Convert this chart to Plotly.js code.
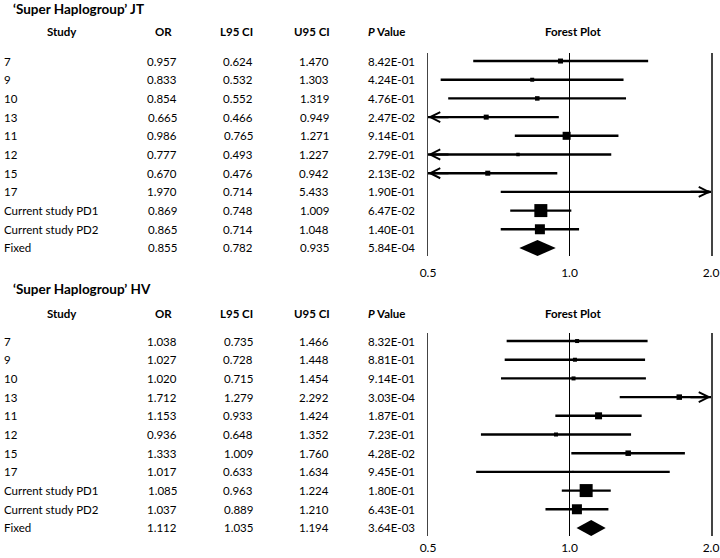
<!DOCTYPE html>
<html>
<head>
<meta charset="utf-8">
<script src="https://cdn.plot.ly/plotly-3.0.1.min.js"></script>
<style>html,body{margin:0;padding:0;background:#fff;}#chart{width:720px;height:558px;}</style>
</head>
<body>
<div id="chart"></div>
<script>
// ---------- data ----------
const studies = ['7','9','10','13','11','12','15','17','Current study PD1','Current study PD2','Fixed'];

const jtTitle = '\u2018Super Haplogroup\u2019 JT';
const jtOR  = [0.957,0.833,0.854,0.665,0.986,0.777,0.670,1.970,0.869,0.865,0.855];
const jtL95 = [0.624,0.532,0.552,0.466,0.765,0.493,0.476,0.714,0.748,0.714,0.782];
const jtU95 = [1.470,1.303,1.319,0.949,1.271,1.227,0.942,5.433,1.009,1.048,0.935];
const jtP   = ['8.42E-01','4.24E-01','4.76E-01','2.47E-02','9.14E-01','2.79E-01','2.13E-02','1.90E-01','6.47E-02','1.40E-01','5.84E-04'];
const jtBox = [5,4,4.5,5,8,3.5,5,3,13,10,0];

const hvTitle = '\u2018Super Haplogroup\u2019 HV';
const hvOR  = [1.038,1.027,1.020,1.712,1.153,0.936,1.333,1.017,1.085,1.037,1.112];
const hvL95 = [0.735,0.728,0.715,1.279,0.933,0.648,1.009,0.633,0.963,0.889,1.035];
const hvU95 = [1.466,1.448,1.454,2.292,1.424,1.352,1.760,1.634,1.224,1.210,1.194];
const hvP   = ['8.32E-01','8.81E-01','9.14E-01','3.03E-04','1.87E-01','7.23E-01','4.28E-02','9.45E-01','1.80E-01','6.43E-01','3.64E-03'];
const hvBox = [4,4,4,5.5,7,4,5.5,2,13,10,0];

const headers = ['Study','OR','L95 CI','U95 CI','<i>P</i> Value','Forest Plot'];
const tickVals = [0.5,1,2];
const tickText = ['0.5','1.0','2.0'];

// ---------- styling ----------
const FONT = 'Lato, "Open Sans", sans-serif';
const TXT = 11.5;
const XMIN = 0.5, XMAX = 2.0;
const W = 720, H = 558;
const px = v => v / W;
const py = v => 1 - v / H;

const traces = [];
const annotations = [];

function panel(title, OR, L, U, P, box, xa, ya, titleY, headerY) {
  const n = studies.length;
  const fixedIdx = n - 1;
  // CI lines (clamped to axis range)
  const lx = [], ly = [];
  for (let i = 0; i < fixedIdx; i++) {
    lx.push(Math.max(L[i], XMIN), Math.min(U[i], XMAX), null);
    ly.push(i, i, null);
  }
  traces.push({type:'scatter', mode:'lines', x:lx, y:ly, xaxis:xa, yaxis:ya,
    line:{color:'#000', width:2.4}, hoverinfo:'skip'});
  // boxes
  traces.push({type:'scatter', mode:'markers',
    x:OR.slice(0,fixedIdx), y:studies.slice(0,fixedIdx).map((s,i)=>i),
    xaxis:xa, yaxis:ya,
    marker:{symbol:'square', color:'#000', opacity:1, size:box.slice(0,fixedIdx), line:{width:0}}});
  // diamond for pooled estimate
  const h = 0.43;
  traces.push({type:'scatter', mode:'lines', fill:'toself', fillcolor:'#000',
    x:[L[fixedIdx], OR[fixedIdx], U[fixedIdx], OR[fixedIdx], L[fixedIdx]],
    y:[fixedIdx, fixedIdx-h, fixedIdx, fixedIdx+h, fixedIdx],
    xaxis:xa, yaxis:ya, line:{width:0, color:'#000'}});
  // arrows for truncated CIs
  for (let i = 0; i < fixedIdx; i++) {
    if (L[i] < XMIN) annotations.push({xref:xa, yref:ya, x:Math.log10(XMIN), y:i,
      ax:22, ay:0, showarrow:true, arrowhead:5, arrowsize:0.9, arrowwidth:2.2, arrowcolor:'#000', text:''});
    if (U[i] > XMAX) annotations.push({xref:xa, yref:ya, x:Math.log10(XMAX), y:i,
      ax:-22, ay:0, showarrow:true, arrowhead:5, arrowsize:0.9, arrowwidth:2.2, arrowcolor:'#000', text:''});
  }
  // title
  annotations.push({xref:'paper', yref:'paper', x:px(11), y:py(titleY), xanchor:'left', yanchor:'middle',
    text:'<b>'+title+'</b>', showarrow:false, font:{family:FONT, size:13.5, color:'#000'}});
  // headers
  const hx = [62,163,236,312,366,573];
  const ha = ['center','center','center','center','left','center'];
  headers.forEach((t,j)=>annotations.push({xref:'paper', yref:'paper', x:px(hx[j]), y:py(headerY),
    xanchor:ha[j], yanchor:'middle', text:'<b>'+t+'</b>', showarrow:false,
    font:{family:FONT, size:TXT, color:'#000'}}));
  // rows
  for (let i = 0; i < n; i++) {
    const f = {family:FONT, size:TXT, color:'#000'};
    annotations.push({xref:'paper', yref:ya, x:px(2), y:i, xanchor:'left', yanchor:'middle', text:studies[i], showarrow:false, font:f});
    annotations.push({xref:'paper', yref:ya, x:px(162), y:i, xanchor:'center', yanchor:'middle', text:OR[i].toFixed(3), showarrow:false, font:f});
    annotations.push({xref:'paper', yref:ya, x:px(238), y:i, xanchor:'center', yanchor:'middle', text:L[i].toFixed(3), showarrow:false, font:f});
    annotations.push({xref:'paper', yref:ya, x:px(314), y:i, xanchor:'center', yanchor:'middle', text:U[i].toFixed(3), showarrow:false, font:f});
    annotations.push({xref:'paper', yref:ya, x:px(366), y:i, xanchor:'left', yanchor:'middle', text:P[i], showarrow:false, font:f});
  }
}

panel(jtTitle, jtOR, jtL95, jtU95, jtP, jtBox, 'x', 'y', 9, 32);
panel(hvTitle, hvOR, hvL95, hvU95, hvP, hvBox, 'x2', 'y2', 289, 313);

const xdom = [428/W, 711/W];
function xax(anchor, tlen) {
  return {domain:xdom, anchor:anchor, type:'log', range:[Math.log10(XMIN), Math.log10(XMAX)],
    tickmode:'array', tickvals:tickVals, ticktext:tickText, ticks:'outside', ticklen:tlen,
    tickcolor:'rgba(0,0,0,0)', showline:false,
    showgrid:true, gridcolor:'#000', gridwidth:1, zeroline:false, fixedrange:true,
    tickfont:{family:FONT, size:12, color:'#000'}};
}
function yax(anchor, top, bottom) {
  return {domain:[1-bottom/H, 1-top/H], anchor:anchor, range:[10.43,-0.43],
    showticklabels:false, showgrid:false, zeroline:false, ticks:'',
    showline:true, mirror:true, linecolor:'#444', linewidth:1.5, fixedrange:true};
}

const layout = {
  width:W, height:H, margin:{l:0,r:0,t:0,b:0},
  paper_bgcolor:'#fff', plot_bgcolor:'#fff', showlegend:false,
  xaxis: xax('y', 6),
  yaxis: yax('x', 53, 256),
  xaxis2: xax('y2', 1),
  yaxis2: yax('x2', 333, 536),
  annotations: annotations,
  font:{family:FONT, size:12, color:'#000'}
};

Plotly.newPlot('chart', traces, layout, {displayModeBar:false, staticPlot:true});
</script>
</body>
</html>
